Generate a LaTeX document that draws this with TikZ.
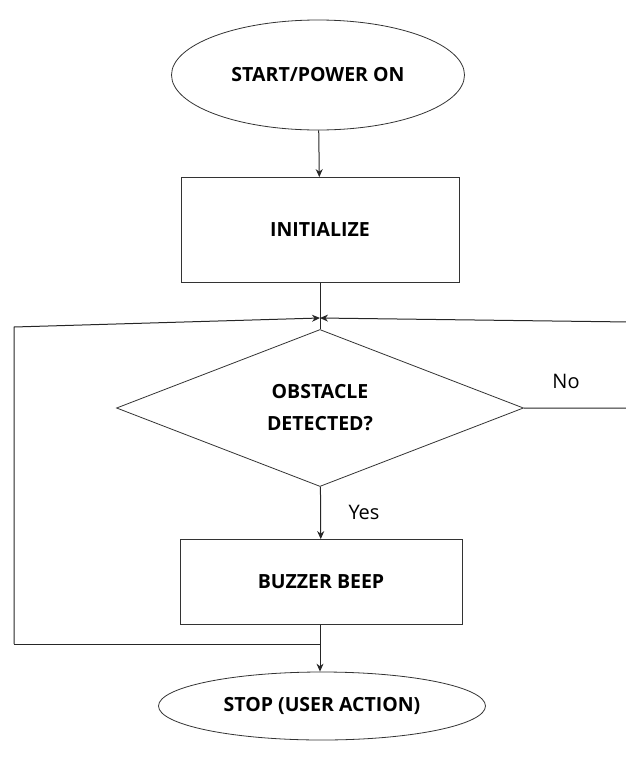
\documentclass[tikz,border=0pt]{standalone}
\usepackage{fontspec}
\setmainfont{Open Sans}
\usepackage{tikz}
\usetikzlibrary{shapes.geometric,arrows,arrows.meta,calc,positioning}

\begin{document}
\begin{tikzpicture}[x=1pt,y=-1pt]
	\tikzstyle{every node} = [draw = black!80, line width = 0.8pt, inner sep = 0pt, font = \bfseries\fontsize{19.5}{32}\selectfont, align = center]
	\tikzstyle{label} = [draw = none, font = \fontsize{20}{24}\selectfont]
	\tikzstyle{line} = [draw = black!85, line width = 1pt]
	\tikzstyle{arrow} = [line, -{Stealth[length = 8pt, width = 7pt]}]
	\useasboundingbox (0,0) rectangle (625,758);
\node[ellipse, minimum width = 293, minimum height = 110] (0) at (318, 75) {START/POWER ON};
\node[rectangle, minimum width = 278, minimum height = 105] (1) at (320, 230) {INITIALIZE};
\node[diamond, minimum width = 407, minimum height = 157] (2) at (320, 408) {OBSTACLE\\DETECTED?};
\node[rectangle, minimum width = 282, minimum height = 85] (3) at (321, 582) {BUZZER BEEP};
\node[ellipse, minimum width = 327, minimum height = 68] (4) at (322, 706) {STOP (USER ACTION)};

\node[label] (no) at (566, 381) {No};
\node[label] (yes) at (364, 512) {Yes};

\coordinate (j) at (320, 318);
\coordinate (lt) at (14, 327);
\coordinate (lb) at (14, 644);
\coordinate (rb) at (630, 408);
\coordinate (rt) at (630, 322);
\coordinate (m) at (1.south |- lb);

	\path[arrow] (0) -- (1);
	\path[line] (1) -- (j);
	\path[line] (j) -- (2.north);
	\path[arrow] (lb) -- (lt) -- (j);
	\path[arrow] (2.east) -- (rb) -- (rt) -- (j);
	\path[arrow] (2) -- (3);
	\path[arrow] (3.south -| 1.south) -- (4.north -| 1.south);
	\path[line] (m) -- (lb);
	\end{tikzpicture}
\end{document}
